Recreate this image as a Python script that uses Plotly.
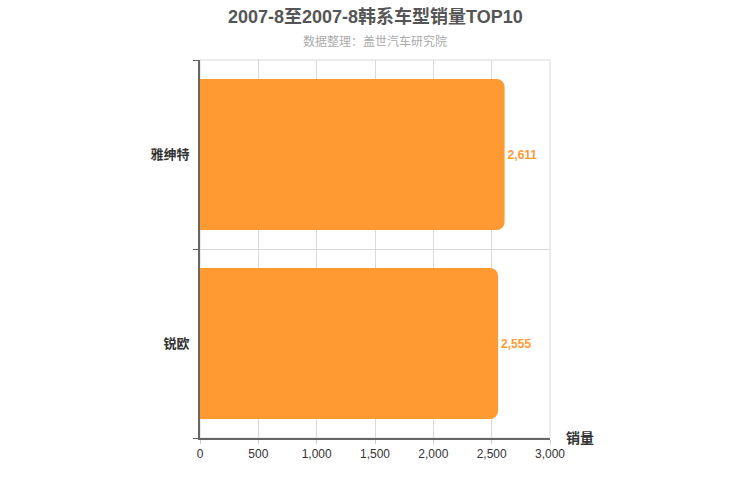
import plotly.graph_objects as go

categories = ["锐欧", "雅绅特"]
sales = [2555, 2611]
x_tickvals = [0, 500, 1000, 1500, 2000, 2500, 3000]
x_ticktext = ["0", "500", "1,000", "1,500", "2,000", "2,500", "3,000"]

title_text = "2007-8至2007-8韩系车型销量TOP10"
subtitle_text = "数据整理：盖世汽车研究院"
axis_name = "销量"

FONT = "Liberation Sans, Arial, Noto Sans CJK SC, sans-serif"
BAR_COLOR = "#FF9A33"

fig = go.Figure(
    go.Bar(
        y=categories,
        x=sales,
        orientation="h",
        marker=dict(color=BAR_COLOR, line=dict(width=0)),
        width=0.8,
        text=[f"{v:,}" for v in sales],
        textposition="outside",
        textfont=dict(color=BAR_COLOR, size=12, family=FONT, weight="bold"),
        cliponaxis=False,
        hoverinfo="skip",
    )
)

plot_h = 500 - 60 - 62

fig.update_layout(
    width=750,
    height=500,
    margin=dict(l=200, r=200, t=60, b=62),
    paper_bgcolor="white",
    plot_bgcolor="white",
    showlegend=False,
    barcornerradius=8,
    font=dict(family=FONT, color="#333"),
    shapes=[
        dict(type="rect", xref="paper", yref="paper", x0=0, x1=1, y0=0, y1=1,
             line=dict(color="#d9d9d9", width=1), layer="below"),
    ],
    annotations=[
        dict(text=title_text, x=0.5, y=1 + (60 - 16) / plot_h, yanchor="middle",
             xref="paper", yref="paper", showarrow=False,
             font=dict(size=18, color="#555", family=FONT, weight="bold")),
        dict(text=subtitle_text, x=0.5, y=1 + (60 - 41) / plot_h, yanchor="middle",
             xref="paper", yref="paper", showarrow=False,
             font=dict(size=12, color="#aaa", family=FONT)),
        dict(text=axis_name, x=1, xref="paper", xanchor="left", xshift=14,
             y=0, yref="paper", yanchor="middle", showarrow=False,
             font=dict(size=14, color="#333", family=FONT, weight="bold")),
    ],
)

fig.update_xaxes(
    range=[0, 3000],
    tickvals=x_tickvals,
    ticktext=x_ticktext,
    showgrid=True,
    gridcolor="#d9d9d9",
    gridwidth=1,
    showline=True,
    linecolor="#666",
    linewidth=2,
    ticks="outside",
    ticklen=4,
    tickcolor="#ccc",
    tickfont=dict(size=12, color="#333", family=FONT),
    zeroline=False,
    fixedrange=True,
)

fig.update_yaxes(
    type="category",
    range=[-0.5, 1.5],
    tickson="boundaries",
    showgrid=True,
    gridcolor="#d9d9d9",
    gridwidth=1,
    showline=True,
    linecolor="#666",
    linewidth=2,
    ticks="outside",
    ticklen=5,
    tickcolor="#666",
    tickfont=dict(size=13, color="#333", family=FONT, weight="bold"),
    ticklabelstandoff=6,
    fixedrange=True,
)

fig.write_html(
    "out.html",
    config={"displayModeBar": False},
    post_script="document.body.style.margin='0';document.body.style.padding='0';",
)
